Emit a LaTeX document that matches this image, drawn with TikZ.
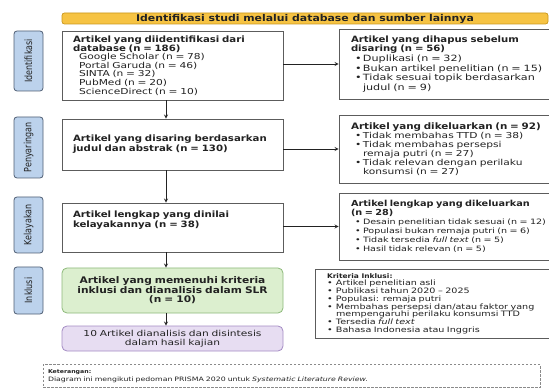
\documentclass[tikz,border=0pt]{standalone}
\usepackage{fontspec}
\setmainfont{DejaVu Sans}[FakeStretch=1.3]
\newfontfamily\headfont{DejaVu Sans}[FakeStretch=1.17]
\newfontfamily\sidefont{DejaVu Sans}[FakeStretch=0.8]
\newcommand{\tbf}{\headfont\bfseries}
\newcommand{\ind}{\hspace*{6pt}}
\newcommand{\bitem}{\hspace*{4pt}\makebox[8pt][l]{•}}
\newcommand{\bcont}{\hspace*{12pt}}
\newcommand{\kitem}{\makebox[9pt][l]{•}}
\newcommand{\kcont}{\hspace*{9pt}}
\definecolor{ink}{HTML}{222222}
\definecolor{boxline}{HTML}{5C5C5C}
\definecolor{headfill}{HTML}{F6C343}
\definecolor{headline}{HTML}{C9971C}
\definecolor{stagefill}{HTML}{BCD2EC}
\definecolor{stageline}{HTML}{4F5E73}
\definecolor{greenfill}{HTML}{DCEFCF}
\definecolor{greenline}{HTML}{8DB97A}
\definecolor{purplefill}{HTML}{E7DDF2}
\definecolor{purpleline}{HTML}{A48CC4}
\definecolor{noteline}{HTML}{8A8A8A}
\begin{document}
\begin{tikzpicture}[x=1pt,y=1pt]
           \tikzstyle{box} = [rectangle, draw=boxline, line width=0.8pt, fill=white, text=ink, align=left, inner ysep=2pt]
           \tikzstyle{lbox} = [box, text width=199pt, inner xsep=11pt]
           \tikzstyle{rbox} = [box, text width=200pt, inner xsep=12pt]
           \tikzstyle{stage} = [rectangle, rounded corners=3pt, draw=stageline, fill=stagefill, line width=0.8pt, minimum width=29pt, inner sep=0pt, text=ink, font=\sidefont\fontsize{10}{10}\selectfont]
           \tikzstyle{arrow} = [line width=0.8pt, draw=ink, ->, >=stealth]

           \useasboundingbox (0,0) rectangle (549,-390);
           \clip (0,0) rectangle (549,-390);

           \node (head) [rectangle, rounded corners=2.5pt, draw=headline, fill=headfill, line width=0.7pt, minimum width=486pt, minimum height=11pt, inner sep=0pt, text=ink, font=\tbf\fontsize{9.3}{9.3}\selectfont] at (305,-18.5) {Identifikasi studi melalui database dan sumber lainnya};

           \node (b1) [lbox, minimum height=69pt, font=\fontsize{8.2}{8.6}\selectfont] at (172.5,-65.5) {{\tbf\fontsize{8.7}{8.6}\selectfont Artikel yang diidentifikasi dari\\ database (n = 186)}\\ \ind Google Scholar (n = 78)\\ \ind Portal Garuda (n = 46)\\ \ind SINTA (n = 32)\\ \ind PubMed (n = 20)\\ \ind ScienceDirect (n = 10)};
           \node (b2) [lbox, below of=b1, node distance=79pt, minimum height=51pt, font=\tbf\fontsize{8.7}{9.8}\selectfont] {Artikel yang disaring berdasarkan\\ judul dan abstrak (n = 130)};
           \node (b3) [lbox, below of=b2, node distance=83pt, minimum height=49pt, font=\tbf\fontsize{8.7}{9.8}\selectfont] {Artikel lengkap yang dinilai\\ kelayakannya (n = 38)\par\vspace{14pt}};
           \node (incl) [lbox, fill=greenfill, draw=greenline, rounded corners=5pt, align=center, below of=b3, node distance=63pt, minimum height=45pt, font=\tbf\fontsize{9.1}{9.5}\selectfont] {Artikel yang memenuhi kriteria\\ inklusi dan dianalisis dalam SLR\\ (n = 10)};
           \node (synth) [lbox, fill=purplefill, draw=purpleline, rounded corners=5pt, align=center, below of=incl, node distance=48pt, minimum height=25pt, font=\fontsize{8.2}{9}\selectfont] {10 Artikel dianalisis dan disintesis\\ dalam hasil kajian};

           \node (r1) [rbox, right of=b1, node distance=278.5pt, yshift=1.5pt, minimum height=70pt, font=\fontsize{8.6}{9.7}\selectfont] {{\tbf\fontsize{8.65}{9.7}\selectfont Artikel yang dihapus sebelum\\ disaring (n = 56)}\\ \bitem Duplikasi (n = 32)\\ \bitem Bukan artikel penelitian (n = 15)\\ \bitem Tidak sesuai topik berdasarkan\\ \bcont judul (n = 9)};
           \node (r2) [rbox, right of=b2, node distance=278.5pt, yshift=-4.5pt, minimum height=68pt, font=\fontsize{8.2}{9}\selectfont] {{\tbf\fontsize{8.85}{9}\selectfont Artikel yang dikeluarkan (n = 92)}\\ \bitem Tidak membahas TTD (n = 38)\\ \bitem Tidak membahas persepsi\\ \bcont remaja putri (n = 27)\\ \bitem Tidak relevan dengan perilaku\\ \bcont konsumsi (n = 27)};
           \node (r3) [rbox, right of=b3, node distance=278.5pt, yshift=1pt, minimum height=67pt, font=\fontsize{7.35}{9}\selectfont] {{\tbf\fontsize{8.3}{8.6}\selectfont Artikel lengkap yang dikeluarkan\\ (n = 28)}\\ \bitem Desain penelitian tidak sesuai (n = 12)\\ \bitem Populasi bukan remaja putri (n = 6)\\ \bitem Tidak tersedia \textit{full text} (n = 5)\\ \bitem Hasil tidak relevan (n = 5)};
           \node (crit) [rbox, text width=221pt, right of=incl, node distance=265pt, yshift=-13pt, minimum height=69pt, font=\fontsize{7.4}{7.7}\selectfont] {{\tbf\fontsize{6.4}{7.7}\selectfont Kriteria Inklusi:}\\ \kitem Artikel penelitian asli\\ \kitem Publikasi tahun 2020 -- 2025\\ \kitem Populasi: remaja putri\\ \kitem Membahas persepsi dan/atau faktor yang\\ \kcont mempengaruhi perilaku konsumsi TTD\\ \kitem Tersedia \textit{full text}\\ \kitem Bahasa Indonesia atau Inggris};

           \node (s1) [stage, left of=b1, node distance=144pt, yshift=4.5pt, minimum height=60pt] {\rotatebox{90}{Identifikasi}};
           \node (s2) [stage, left of=b2, node distance=144pt, yshift=-3pt, minimum height=61pt] {\rotatebox{90}{Penyaringan}};
           \node (s3) [stage, left of=b3, node distance=144pt, yshift=2.5pt, minimum height=56pt] {\rotatebox{90}{Kelayakan}};
           \node (s4) [stage, left of=incl, node distance=144pt, minimum height=47pt] {\rotatebox{90}{Inklusi}};

           \node (note) [rectangle, draw=noteline, dash pattern=on 2.5pt off 1.5pt, line width=0.6pt, text width=487pt, inner xsep=5pt, minimum height=23pt, align=left, text=ink, font=\fontsize{6}{8}\selectfont] at (291.5,-376) {{\tbf\fontsize{5.3}{8}\selectfont Keterangan:}\\ Diagram ini mengikuti pedoman PRISMA 2020 untuk \textit{Systematic Literature Review.}};

           \draw[arrow] ([xshift=-6.5pt]b1.south) -- ([xshift=-6.5pt]b2.north);
           \draw[arrow] ([xshift=-6.5pt]b2.south) -- ([xshift=-6.5pt]b3.north);
           \draw[arrow] ([xshift=-6.5pt]b3.south) -- ([xshift=-6.5pt]incl.north);
           \draw[arrow] ([xshift=-6.5pt]incl.south) -- ([xshift=-6.5pt]synth.north);
           \draw[arrow] (r1.west -| b1.east) -- (r1.west);
           \draw[arrow] (r2.west -| b2.east) -- (r2.west);
           \draw[arrow] (r3.west -| b3.east) -- (r3.west);
\end{tikzpicture}
\end{document}
